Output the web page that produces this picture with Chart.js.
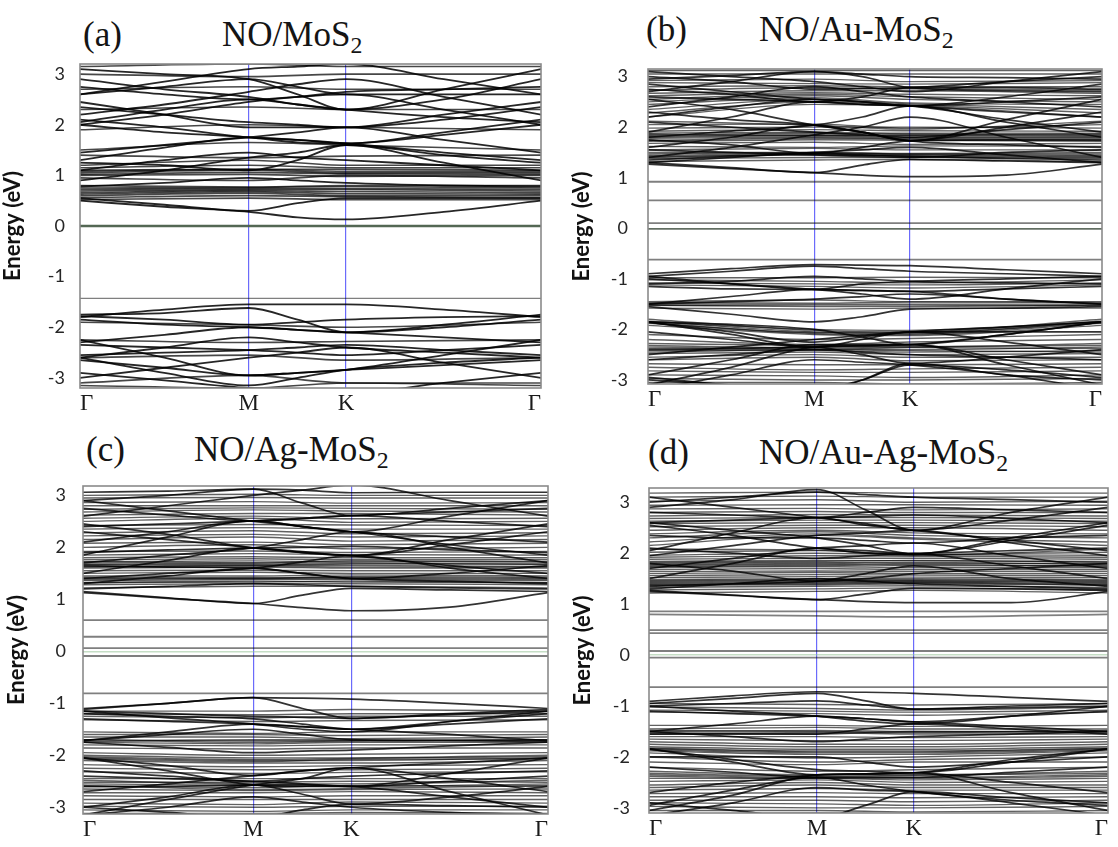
<!DOCTYPE html>
<html>
<head>
<meta charset="utf-8">
<script src="https://cdn.jsdelivr.net/npm/chart.js@4.4.0/dist/chart.umd.min.js"></script>
<style>
  html, body { margin: 0; padding: 0; background: #fff; }
  body { width: 1118px; height: 847px; position: relative; overflow: hidden; }
  .panel { position: absolute; }
  .lbl { position: absolute; font-family: "Liberation Serif", "Times New Roman", serif; font-size: 35px;
         line-height: 35px; color: #141414; white-space: nowrap; }
  .lbl sub { font-size: 0.68em; vertical-align: -0.3em; line-height: 0; }
</style>
</head>
<body>
<div class="lbl" style="left:83px;top:17px">(a)</div>
<div class="lbl" style="left:222px;top:17px">NO/MoS<sub>2</sub></div>
<div class="lbl" style="left:646px;top:12px">(b)</div>
<div class="lbl" style="left:759px;top:12px">NO/Au-MoS<sub>2</sub></div>
<div class="lbl" style="left:86px;top:432px">(c)</div>
<div class="lbl" style="left:194px;top:432px">NO/Ag-MoS<sub>2</sub></div>
<div class="lbl" style="left:648px;top:435px">(d)</div>
<div class="lbl" style="left:759px;top:435px">NO/Au-Ag-MoS<sub>2</sub></div>

<div class="panel" id="pA"><canvas id="cA"></canvas></div>
<div class="panel" id="pB"><canvas id="cB"></canvas></div>
<div class="panel" id="pC"><canvas id="cC"></canvas></div>
<div class="panel" id="pD"><canvas id="cD"></canvas></div>

<script>
// k-path Γ–M–K–Γ of the hexagonal zone, as a fraction of the total path length
const kFull = [0, 0.183, 0.366, 0.472, 0.577, 0.789, 1];   // sampled k-points
const kHigh = [0, 0.366, 0.577, 1];                         // Γ, M, K, Γ
const kLabels = ['Γ', 'M', 'K', 'Γ'];
const energyTicks = [-3, -2, -1, 0, 1, 2, 3];

// Dispersive bands: energies (eV) at kFull.  Near-flat bands: [E(Γ), E(M), E(K)].
// Isolated levels near the Fermi energy: [E(Γ), E(M), E(K)].

// ---- (a) NO/MoS2 ----
const bandsA = [
  [0.50, 0.38, 0.28, 0.17, 0.13, 0.28, 0.50],
  [0.55, 0.42, 0.30, 0.45, 0.55, 0.55, 0.55],
  [0.78, 0.85, 0.95, 0.90, 0.85, 0.80, 0.78],
  [0.90, 1.10, 1.35, 1.45, 1.60, 1.25, 0.90],
  [1.10, 1.30, 1.45, 1.35, 1.30, 1.20, 1.10],
  [1.25, 1.20, 1.10, 1.30, 1.60, 1.40, 1.25],
  [1.30, 1.55, 1.75, 1.70, 1.63, 1.45, 1.30],
  [1.45, 1.60, 1.75, 1.85, 1.95, 1.70, 1.45],
  [2.00, 1.85, 1.75, 1.65, 1.63, 1.80, 2.00],
  [2.10, 1.95, 1.75, 1.70, 1.63, 1.85, 2.10],
  [2.05, 2.30, 2.50, 2.40, 2.30, 2.15, 2.05],
  [2.35, 2.20, 2.05, 2.00, 1.95, 2.10, 2.35],
  [2.45, 2.20, 1.95, 1.95, 1.95, 2.20, 2.45],
  [2.00, 2.20, 2.45, 2.55, 2.60, 2.30, 2.00],
  [2.75, 2.60, 2.50, 2.55, 2.65, 2.70, 2.75],
  [2.90, 2.70, 2.55, 2.40, 2.30, 2.50, 2.90],
  [3.10, 3.00, 2.90, 2.60, 2.30, 2.70, 3.10],
  [2.60, 2.75, 2.90, 2.75, 2.60, 2.60, 2.60],
  [2.60, 2.85, 3.10, 3.15, 3.20, 2.90, 2.60],
  [2.20, 2.40, 2.65, 2.80, 2.90, 2.55, 2.20],
  [-1.80, -1.65, -1.55, -1.55, -1.55, -1.65, -1.80],
  [-1.78, -1.85, -1.95, -1.90, -1.85, -1.80, -1.78],
  [-1.75, -1.72, -1.62, -1.85, -2.10, -1.95, -1.75],
  [-1.85, -1.95, -2.00, -2.05, -2.10, -2.00, -1.85],
  [-2.30, -2.15, -2.00, -2.05, -2.10, -2.20, -2.30],
  [-2.60, -2.40, -2.20, -2.30, -2.40, -2.50, -2.60],
  [-2.35, -2.40, -2.45, -2.50, -2.55, -2.45, -2.35],
  [-2.55, -2.50, -2.45, -2.40, -2.35, -2.45, -2.55],
  [-2.25, -2.60, -2.95, -2.90, -2.84, -2.55, -2.25],
  [-2.65, -2.80, -2.95, -2.90, -2.84, -2.75, -2.65],
  [-2.60, -2.90, -3.15, -3.00, -2.84, -2.70, -2.60],
  [-3.00, -2.80, -2.60, -2.50, -2.40, -2.70, -3.00],
  [-2.90, -3.05, -3.20, -3.25, -3.30, -3.10, -2.90]
];
const flatA = [
  [0.52, 0.55, 0.52], [0.56, 0.60, 0.58], [0.60, 0.65, 0.60], [0.63, 0.68, 0.64], [0.66, 0.70, 0.68],
  [0.69, 0.72, 0.72], [0.72, 0.74, 0.74], [0.75, 0.76, 0.78], [0.80, 0.77, 0.80],
  [0.95, 0.90, 1.00], [1.00, 1.02, 0.98], [1.02, 1.06, 1.03], [1.05, 1.10, 1.05], [1.08, 1.12, 1.08],
  [1.10, 1.12, 1.12], [1.15, 1.20, 1.15],
  [1.20, 1.30, 1.20], [1.40, 1.35, 1.38], [1.50, 1.65, 1.60], [1.90, 2.00, 1.95], [2.30, 2.35, 2.30],
  [2.70, 2.75, 2.70], [3.00, 2.95, 3.00], [3.15, 3.20, 3.15],
  [-1.90, -1.95, -2.00], [-2.25, -2.30, -2.28], [-2.60, -2.55, -2.65], [-3.10, -2.95, -3.10], [-3.15, -3.20, -3.10]
];
const levelsA = [[0.00, 0.00, 0.00], [-1.43, -1.43, -1.43]];

// ---- (b) NO/Au-MoS2 ----
const bandsB = [
  [1.27, 1.18, 1.10, 1.05, 1.02, 1.05, 1.27],
  [1.30, 1.20, 1.10, 1.25, 1.36, 1.33, 1.30],
  [1.35, 1.42, 1.48, 1.45, 1.42, 1.38, 1.35],
  [1.55, 1.50, 1.45, 1.42, 1.40, 1.50, 1.55],
  [1.30, 1.40, 1.50, 1.55, 1.60, 1.45, 1.30],
  [1.60, 1.80, 2.04, 1.90, 1.73, 1.65, 1.60],
  [1.80, 1.92, 2.04, 2.20, 2.42, 2.10, 1.80],
  [2.30, 2.15, 2.04, 1.90, 1.73, 2.00, 2.30],
  [2.55, 2.35, 2.04, 1.90, 1.73, 2.15, 2.55],
  [1.75, 1.65, 1.48, 1.60, 1.73, 1.75, 1.75],
  [1.40, 1.60, 1.85, 2.00, 2.20, 1.80, 1.40],
  [2.10, 2.00, 1.90, 1.85, 1.80, 1.95, 2.10],
  [1.90, 2.20, 2.50, 2.45, 2.42, 2.15, 1.90],
  [2.20, 2.40, 2.55, 2.50, 2.42, 2.30, 2.20],
  [2.60, 2.55, 2.50, 2.45, 2.42, 2.50, 2.60],
  [2.85, 2.70, 2.55, 2.50, 2.42, 2.60, 2.85],
  [2.75, 2.65, 2.50, 2.60, 2.78, 2.78, 2.75],
  [2.40, 2.60, 2.80, 2.70, 2.60, 2.50, 2.40],
  [2.70, 2.90, 3.10, 3.00, 2.78, 2.72, 2.70],
  [3.00, 2.90, 2.75, 2.76, 2.78, 2.90, 3.00],
  [3.10, 3.00, 2.90, 2.80, 2.70, 2.90, 3.10],
  [2.95, 3.02, 3.10, 3.05, 3.00, 2.98, 2.95],
  [-0.90, -0.80, -0.72, -0.73, -0.74, -0.82, -0.90],
  [-0.95, -0.85, -0.75, -0.80, -0.85, -0.90, -0.95],
  [-0.95, -1.10, -1.21, -1.10, -1.05, -1.00, -0.95],
  [-1.10, -1.05, -0.95, -1.00, -1.05, -1.08, -1.10],
  [-1.15, -1.20, -1.21, -1.23, -1.25, -1.20, -1.15],
  [-1.50, -1.35, -1.21, -1.23, -1.25, -1.40, -1.50],
  [-1.00, -1.10, -1.21, -1.30, -1.40, -1.20, -1.00],
  [-1.50, -1.45, -1.40, -1.35, -1.30, -1.40, -1.50],
  [-1.55, -1.70, -1.85, -1.75, -1.60, -1.58, -1.55],
  [-1.85, -2.05, -2.25, -2.15, -2.05, -1.95, -1.85],
  [-1.85, -2.10, -2.35, -2.32, -2.30, -2.10, -1.85],
  [-1.85, -1.90, -2.00, -2.15, -2.30, -2.10, -1.85],
  [-2.05, -2.20, -2.35, -2.20, -2.05, -2.05, -2.05],
  [-2.50, -2.35, -2.20, -2.12, -2.05, -2.25, -2.50],
  [-2.90, -2.60, -2.30, -2.30, -2.30, -2.60, -2.90],
  [-3.10, -2.75, -2.35, -2.32, -2.30, -2.70, -3.10],
  [-2.40, -2.38, -2.35, -2.50, -2.67, -2.55, -2.40],
  [-2.60, -2.50, -2.40, -2.45, -2.50, -2.55, -2.60],
  [-2.95, -3.10, -3.20, -3.00, -2.70, -2.80, -2.95],
  [-3.20, -2.90, -2.60, -2.65, -2.70, -2.90, -3.20],
  [-3.00, -3.10, -3.25, -3.00, -2.67, -2.90, -3.00]
];
const flatB = [
  [1.32, 1.35, 1.36], [1.38, 1.40, 1.40], [1.40, 1.46, 1.42], [1.42, 1.45, 1.44], [1.44, 1.48, 1.46],
  [1.47, 1.50, 1.47], [1.50, 1.50, 1.48], [1.55, 1.58, 1.55],
  [1.62, 1.60, 1.63], [1.68, 1.70, 1.66], [1.72, 1.75, 1.74], [1.74, 1.78, 1.76], [1.78, 1.80, 1.78],
  [1.80, 1.83, 1.80], [1.82, 1.85, 1.83], [1.84, 1.88, 1.86], [1.86, 1.83, 1.84],
  [1.88, 1.90, 1.88], [1.92, 1.95, 1.93], [1.98, 2.00, 2.00], [2.05, 2.06, 1.98], [2.12, 2.04, 1.96],
  [2.20, 2.45, 2.42], [2.28, 2.50, 2.44], [2.35, 2.55, 2.46], [2.45, 2.58, 2.48], [2.50, 2.62, 2.55],
  [2.55, 2.65, 2.60], [2.62, 2.68, 2.65], [2.67, 2.72, 2.72], [2.73, 2.78, 2.76], [2.80, 2.82, 2.80],
  [2.88, 2.86, 2.85], [2.92, 2.95, 2.90], [3.05, 3.05, 3.05], [3.12, 3.12, 3.12],
  [-0.98, -0.98, -0.97], [-1.02, -1.05, -1.08], [-1.08, -1.10, -1.12], [-1.12, -1.15, -1.18],
  [-1.45, -1.42, -1.45], [-1.47, -1.48, -1.46], [-1.50, -1.50, -1.50], [-1.53, -1.52, -1.52],
  [-1.52, -1.55, -1.55], [-1.58, -1.60, -1.58],
  [-1.80, -2.02, -2.05], [-1.84, -2.05, -2.08], [-1.85, -2.00, -2.02], [-1.87, -2.06, -2.06],
  [-1.88, -2.08, -2.10], [-1.92, -2.10, -2.12],
  [-2.10, -2.20, -2.18], [-2.20, -2.30, -2.25], [-2.28, -2.32, -2.35], [-2.32, -2.36, -2.34],
  [-2.35, -2.38, -2.40], [-2.38, -2.40, -2.36], [-2.42, -2.42, -2.45], [-2.45, -2.40, -2.42],
  [-2.48, -2.45, -2.50], [-2.55, -2.50, -2.55], [-2.60, -2.55, -2.62],
  [-2.68, -2.70, -2.70], [-2.75, -2.80, -2.78], [-2.82, -2.85, -2.85], [-2.90, -2.92, -2.95],
  [-2.97, -3.00, -3.00], [-3.05, -3.05, -3.08], [-3.12, -3.10, -3.12]
];
const levelsB = [[0.92, 0.92, 0.92], [0.55, 0.55, 0.55], [0.10, 0.10, 0.10], [-0.01, -0.01, -0.01], [-0.62, -0.62, -0.62]];

// ---- (c) NO/Ag-MoS2 ----
const bandsC = [
  [1.13, 1.02, 0.92, 0.84, 0.78, 0.85, 1.13],
  [1.15, 1.03, 0.92, 1.08, 1.21, 1.18, 1.15],
  [1.20, 1.25, 1.30, 1.28, 1.25, 1.22, 1.20],
  [1.30, 1.45, 1.60, 1.50, 1.40, 1.35, 1.30],
  [1.50, 1.75, 1.99, 1.90, 1.84, 1.65, 1.50],
  [1.70, 1.85, 1.99, 2.15, 2.30, 2.00, 1.70],
  [2.30, 2.15, 1.99, 1.90, 1.84, 2.05, 2.30],
  [2.45, 2.25, 1.99, 1.92, 1.84, 2.15, 2.45],
  [2.10, 2.30, 2.51, 2.40, 2.30, 2.20, 2.10],
  [1.85, 2.20, 2.51, 2.40, 2.30, 2.05, 1.85],
  [2.75, 2.62, 2.51, 2.55, 2.61, 2.68, 2.75],
  [2.40, 2.45, 2.51, 2.56, 2.61, 2.50, 2.40],
  [2.90, 3.00, 3.12, 2.85, 2.61, 2.75, 2.90],
  [3.06, 3.08, 3.12, 3.10, 3.05, 3.06, 3.06],
  [2.90, 2.70, 2.50, 2.40, 2.30, 2.60, 2.90],
  [1.40, 1.50, 1.60, 1.72, 1.84, 1.60, 1.40],
  [1.65, 1.62, 1.60, 1.50, 1.40, 1.50, 1.65],
  [1.90, 1.95, 1.99, 2.00, 2.02, 1.95, 1.90],
  [2.60, 2.80, 3.00, 3.10, 3.20, 2.90, 2.60],
  [-1.10, -1.00, -0.89, -0.90, -0.92, -1.00, -1.10],
  [-1.12, -1.00, -0.89, -1.10, -1.29, -1.20, -1.12],
  [-1.15, -1.20, -1.25, -1.27, -1.29, -1.22, -1.15],
  [-1.30, -1.35, -1.40, -1.45, -1.50, -1.40, -1.30],
  [-1.72, -1.55, -1.40, -1.45, -1.50, -1.60, -1.72],
  [-1.15, -1.28, -1.40, -1.50, -1.55, -1.35, -1.15],
  [-2.05, -2.20, -2.39, -2.30, -2.24, -2.15, -2.05],
  [-2.05, -2.30, -2.57, -2.60, -2.60, -2.35, -2.05],
  [-2.70, -2.55, -2.39, -2.30, -2.24, -2.45, -2.70],
  [-3.00, -2.80, -2.57, -2.57, -2.60, -2.80, -3.00],
  [-3.15, -2.85, -2.57, -2.45, -2.24, -2.70, -3.15],
  [-3.00, -3.10, -3.20, -3.05, -2.94, -2.97, -3.00],
  [-2.60, -2.60, -2.57, -2.75, -2.94, -2.80, -2.60],
  [-1.75, -1.85, -1.95, -1.92, -1.90, -1.82, -1.75],
  [-1.72, -1.60, -1.50, -1.60, -1.70, -1.72, -1.72],
  [-2.30, -2.40, -2.50, -2.45, -2.40, -2.35, -2.30],
  [-2.40, -2.45, -2.50, -2.55, -2.60, -2.50, -2.40],
  [-3.15, -3.00, -2.80, -2.90, -3.00, -3.10, -3.15],
  [-1.20, -1.25, -1.30, -1.40, -1.50, -1.35, -1.20]
];
const flatC = [
  [1.22, 1.25, 1.25], [1.28, 1.30, 1.30], [1.32, 1.33, 1.35], [1.32, 1.35, 1.33], [1.36, 1.38, 1.38],
  [1.38, 1.40, 1.40], [1.40, 1.42, 1.42], [1.42, 1.40, 1.44],
  [1.45, 1.45, 1.47], [1.50, 1.52, 1.50], [1.55, 1.56, 1.55], [1.60, 1.62, 1.60], [1.62, 1.64, 1.62],
  [1.63, 1.66, 1.65], [1.67, 1.70, 1.70], [1.68, 1.66, 1.68], [1.72, 1.74, 1.72], [1.72, 1.70, 1.74],
  [1.76, 1.78, 1.76], [1.80, 1.82, 1.80], [1.85, 1.88, 1.86],
  [1.92, 1.93, 1.90], [2.00, 2.05, 1.97], [2.08, 2.10, 2.05], [2.15, 2.20, 2.12], [2.22, 2.25, 2.20],
  [2.28, 2.32, 2.26], [2.35, 2.38, 2.35], [2.42, 2.44, 2.43], [2.50, 2.56, 2.48], [2.56, 2.60, 2.55],
  [2.62, 2.65, 2.65], [2.68, 2.72, 2.70], [2.73, 2.76, 2.75], [2.80, 2.80, 2.80], [2.86, 2.88, 2.85],
  [2.95, 2.96, 2.95], [3.00, 3.02, 3.00],
  [-1.15, -1.15, -1.12], [-1.20, -1.22, -1.20], [-1.25, -1.28, -1.25], [-1.32, -1.35, -1.33],
  [-1.55, -1.58, -1.55], [-1.60, -1.60, -1.62], [-1.65, -1.65, -1.68], [-1.70, -1.72, -1.72],
  [-1.70, -1.75, -1.72], [-1.74, -1.70, -1.70],
  [-1.75, -1.78, -1.75], [-1.80, -1.82, -1.80], [-1.86, -1.88, -1.86], [-1.95, -2.00, -1.98],
  [-2.00, -2.05, -2.05], [-2.03, -2.08, -2.06], [-2.05, -2.10, -2.10], [-2.07, -2.12, -2.08],
  [-2.10, -2.15, -2.15], [-2.18, -2.22, -2.20],
  [-2.25, -2.28, -2.28], [-2.32, -2.35, -2.33], [-2.45, -2.45, -2.45], [-2.48, -2.55, -2.55],
  [-2.52, -2.52, -2.50], [-2.55, -2.58, -2.60], [-2.58, -2.66, -2.64],
  [-2.60, -2.62, -2.58], [-2.65, -2.68, -2.66], [-2.72, -2.72, -2.70], [-2.78, -2.80, -2.78],
  [-2.85, -2.85, -2.85], [-2.92, -2.95, -2.90], [-2.98, -3.00, -2.98], [-3.05, -3.08, -3.05],
  [-3.12, -3.12, -3.10]
];
const levelsC = [[0.60, 0.60, 0.60], [0.28, 0.28, 0.28], [0.06, 0.06, 0.06], [-0.09, -0.09, -0.09], [-0.81, -0.81, -0.81]];

// ---- (d) NO/Au-Ag-MoS2 ----
const bandsD = [
  [1.25, 1.17, 1.09, 1.05, 1.03, 1.03, 1.25],
  [1.27, 1.18, 1.09, 1.20, 1.31, 1.30, 1.27],
  [1.30, 1.40, 1.50, 1.45, 1.40, 1.35, 1.30],
  [1.50, 1.80, 2.10, 2.00, 1.99, 1.75, 1.50],
  [1.70, 1.90, 2.10, 2.15, 2.20, 1.95, 1.70],
  [2.55, 2.35, 2.10, 2.05, 1.99, 2.25, 2.55],
  [2.35, 2.30, 2.30, 2.25, 2.20, 2.30, 2.35],
  [2.60, 2.45, 2.30, 2.15, 1.99, 2.30, 2.60],
  [1.95, 2.15, 2.35, 2.40, 2.45, 2.20, 1.95],
  [2.05, 2.40, 2.70, 2.55, 2.45, 2.25, 2.05],
  [2.90, 3.05, 3.25, 2.85, 2.45, 2.65, 2.90],
  [3.10, 2.90, 2.70, 2.58, 2.45, 2.80, 3.10],
  [2.60, 2.65, 2.70, 2.72, 2.75, 2.68, 2.60],
  [1.35, 1.40, 1.45, 1.60, 1.75, 1.50, 1.35],
  [1.80, 1.65, 1.45, 1.50, 1.60, 1.70, 1.80],
  [3.00, 3.10, 3.20, 3.15, 3.10, 3.05, 3.00],
  [2.10, 2.00, 1.90, 1.95, 1.99, 2.05, 2.10],
  [2.80, 2.75, 2.70, 2.80, 2.90, 2.85, 2.80],
  [-0.91, -0.80, -0.72, -0.73, -0.75, -0.83, -0.91],
  [-0.95, -0.85, -0.75, -0.90, -1.06, -1.00, -0.95],
  [-1.00, -0.95, -0.90, -0.98, -1.06, -1.03, -1.00],
  [-1.10, -1.15, -1.20, -1.25, -1.31, -1.20, -1.10],
  [-1.50, -1.35, -1.20, -1.25, -1.31, -1.40, -1.50],
  [-1.00, -1.10, -1.20, -1.30, -1.35, -1.20, -1.00],
  [-1.84, -2.10, -2.35, -2.33, -2.31, -2.05, -1.84],
  [-1.84, -2.05, -2.25, -2.28, -2.31, -2.10, -1.84],
  [-2.70, -2.50, -2.35, -2.33, -2.31, -2.50, -2.70],
  [-3.05, -2.75, -2.35, -2.33, -2.31, -2.70, -3.05],
  [-2.95, -2.65, -2.40, -2.55, -2.68, -2.85, -2.95],
  [-2.90, -3.05, -3.20, -2.95, -2.68, -2.80, -2.90],
  [-1.50, -1.60, -1.70, -1.65, -1.60, -1.55, -1.50],
  [-1.55, -1.55, -1.55, -1.45, -1.35, -1.45, -1.55],
  [-2.20, -2.30, -2.40, -2.40, -2.40, -2.30, -2.20],
  [-3.15, -2.90, -2.60, -2.65, -2.68, -2.90, -3.15],
  [-2.00, -2.00, -2.00, -2.10, -2.20, -2.10, -2.00]
];
const flatD = [
  [1.22, 1.25, 1.27], [1.28, 1.30, 1.32], [1.33, 1.35, 1.36], [1.37, 1.38, 1.40], [1.38, 1.40, 1.42],
  [1.40, 1.42, 1.43], [1.42, 1.44, 1.45], [1.44, 1.46, 1.46], [1.46, 1.48, 1.48], [1.48, 1.50, 1.50],
  [1.52, 1.54, 1.53], [1.56, 1.58, 1.57], [1.60, 1.62, 1.60],
  [1.64, 1.65, 1.64], [1.68, 1.70, 1.68], [1.72, 1.74, 1.72], [1.74, 1.76, 1.78], [1.76, 1.78, 1.76],
  [1.78, 1.80, 1.82], [1.80, 1.82, 1.80], [1.82, 1.84, 1.86],
  [1.84, 1.86, 1.85], [1.88, 1.90, 1.90], [1.92, 1.95, 1.94], [1.96, 2.00, 1.97], [2.02, 2.05, 1.98],
  [2.08, 2.06, 1.96], [2.15, 2.35, 2.28], [2.22, 2.38, 2.30], [2.30, 2.42, 2.35], [2.38, 2.45, 2.40],
  [2.45, 2.50, 2.50], [2.52, 2.55, 2.55], [2.58, 2.60, 2.60], [2.63, 2.65, 2.65], [2.68, 2.70, 2.70],
  [2.73, 2.76, 2.75], [2.80, 2.82, 2.80], [2.87, 2.88, 2.85], [2.94, 2.95, 2.95], [3.02, 3.05, 3.00],
  [3.10, 3.12, 3.10], [3.18, 3.20, 3.18],
  [-0.95, -0.97, -0.98], [-1.02, -1.05, -1.08], [-1.08, -1.10, -1.12], [-1.12, -1.15, -1.18],
  [-1.38, -1.38, -1.40], [-1.45, -1.42, -1.45], [-1.48, -1.50, -1.52], [-1.50, -1.48, -1.50],
  [-1.52, -1.55, -1.50], [-1.55, -1.52, -1.55],
  [-1.60, -1.60, -1.62], [-1.65, -1.68, -1.68], [-1.70, -1.75, -1.75], [-1.75, -1.80, -1.80],
  [-1.80, -1.85, -1.85], [-1.83, -1.88, -1.88], [-1.84, -1.90, -1.90], [-1.86, -1.92, -1.92],
  [-1.88, -1.95, -1.95], [-1.92, -2.02, -2.00],
  [-2.00, -2.10, -2.05], [-2.10, -2.15, -2.10], [-2.20, -2.28, -2.25], [-2.28, -2.35, -2.35],
  [-2.32, -2.38, -2.36], [-2.35, -2.40, -2.40], [-2.38, -2.42, -2.42],
  [-2.42, -2.42, -2.45], [-2.48, -2.45, -2.50], [-2.55, -2.50, -2.55],
  [-2.60, -2.55, -2.60], [-2.65, -2.62, -2.65], [-2.72, -2.70, -2.72], [-2.78, -2.78, -2.80],
  [-2.85, -2.85, -2.88], [-2.90, -2.92, -2.95], [-2.97, -3.00, -3.00], [-3.05, -3.05, -3.08],
  [-3.12, -3.10, -3.12]
];
const levelsD = [[0.86, 0.86, 0.86], [0.80, 0.77, 0.75], [0.49, 0.49, 0.49], [0.43, 0.43, 0.43],
                 [0.08, 0.08, 0.08], [-0.05, -0.05, -0.05], [-0.63, -0.63, -0.63]];

// ---- panel layout: canvas box and plot-area insets (px) ----
const panels = [
  { id: 'A', bands: bandsA, flat: flatA, levels: levelsA, yMin: -3.2, yMax: 3.2,
    box: { left: 0, top: 40, width: 556, height: 382 }, padTop: 12, padRight: 15, axisW: 80, axisH: 34,
    titleOff: 13, tickPad: 15,
    flatStyle: { c: 'rgba(0,0,0,0.72)', w: 1.6 }, bandStyle: { c: 'rgba(0,0,0,0.85)', w: 1.8 },
    levelStyle: [{ c: 'rgba(70,90,70,0.9)', w: 2.6 }, { c: 'rgba(0,0,0,0.5)', w: 1.3 }] },
  { id: 'B', bands: bandsB, flat: flatB, levels: levelsB, yMin: -3.08, yMax: 3.15,
    box: { left: 562, top: 40, width: 556, height: 382 }, padTop: 14, padRight: 16, axisW: 86, axisH: 38,
    titleOff: 20, tickPad: 20,
    flatStyle: { c: 'rgba(0,0,0,0.62)', w: 1.4 }, bandStyle: { c: 'rgba(0,0,0,0.8)', w: 1.7 } },
  { id: 'C', bands: bandsC, flat: flatC, levels: levelsC, yMin: -3.13, yMax: 3.18,
    box: { left: 0, top: 460, width: 560, height: 387 }, padTop: 13, padRight: 12, axisW: 83, axisH: 33,
    titleOff: 17, tickPad: 17,
    flatStyle: { c: 'rgba(0,0,0,0.62)', w: 1.4 }, bandStyle: { c: 'rgba(0,0,0,0.8)', w: 1.7 } },
  { id: 'D', bands: bandsD, flat: flatD, levels: levelsD, yMin: -3.1, yMax: 3.28,
    box: { left: 562, top: 460, width: 556, height: 387 }, padTop: 16, padRight: 10, axisW: 87, axisH: 34,
    titleOff: 21, tickPad: 19,
    flatStyle: { c: 'rgba(0,0,0,0.62)', w: 1.4 }, bandStyle: { c: 'rgba(0,0,0,0.8)', w: 1.7 } }
];

function bandPoints(vals) {
  if (vals.length === kFull.length) return vals.map((e, i) => ({ x: kFull[i], y: e }));
  const e = [vals[0], vals[1], vals[2], vals[0]];
  return e.map((v, i) => ({ x: kHigh[i], y: v }));
}

// frame around the plotting area
const framePlugin = {
  id: 'frame',
  afterDraw(chart) {
    const { ctx, chartArea: a } = chart;
    ctx.save();
    ctx.strokeStyle = '#8a8a8a';
    ctx.lineWidth = 1.6;
    ctx.strokeRect(a.left, a.top, a.right - a.left, a.bottom - a.top);
    ctx.restore();
  }
};

panels.forEach(p => {
  const holder = document.getElementById('p' + p.id);
  Object.assign(holder.style, { left: p.box.left + 'px', top: p.box.top + 'px',
    width: p.box.width + 'px', height: p.box.height + 'px' });
  const canvas = document.getElementById('c' + p.id);
  canvas.width = p.box.width; canvas.height = p.box.height;
  canvas.style.width = p.box.width + 'px'; canvas.style.height = p.box.height + 'px';

  const datasets = [];
  p.levels.forEach((v, i) => {
    const st = p.levelStyle ? p.levelStyle[Math.min(i, p.levelStyle.length - 1)] : { c: 'rgba(0,0,0,0.5)', w: 1.8 };
    datasets.push({ data: bandPoints(v), borderColor: st.c, borderWidth: st.w });
  });
  p.flat.forEach(v => datasets.push({ data: bandPoints(v), borderColor: p.flatStyle.c, borderWidth: p.flatStyle.w }));
  p.bands.forEach(v => datasets.push({ data: bandPoints(v), borderColor: p.bandStyle.c, borderWidth: p.bandStyle.w }));
  datasets.forEach(d => Object.assign(d, { pointRadius: 0, fill: false, cubicInterpolationMode: 'monotone', clip: 0 }));

  new Chart(canvas, {
    type: 'line',
    data: { datasets },
    options: {
      responsive: false, animation: false, events: [],
      layout: { padding: { top: p.padTop, right: p.padRight, left: 0, bottom: 0 } },
      plugins: { legend: { display: false }, tooltip: { enabled: false }, title: { display: false } },
      scales: {
        x: {
          type: 'linear', min: 0, max: 1, z: 1,
          afterBuildTicks: s => { s.ticks = kHigh.map(v => ({ value: v })); },
          afterFit: s => { s.height = p.axisH; },
          ticks: { autoSkip: false, maxRotation: 0, align: 'inner', padding: 4, color: '#1a1a1a',
                   font: { family: '"Liberation Serif", "Times New Roman", serif', size: 23, lineHeight: 1 },
                   callback: (v, i) => kLabels[i] },
          grid: { drawTicks: false, lineWidth: 1.2,
                  color: c => (c.index === 1 || c.index === 2) ? 'rgba(70,70,250,0.8)' : 'rgba(0,0,0,0)' },
          border: { display: false }
        },
        y: {
          type: 'linear', min: p.yMin, max: p.yMax,
          afterBuildTicks: s => { s.ticks = energyTicks.map(v => ({ value: v })); },
          afterFit: s => { s.width = p.axisW; },
          ticks: { padding: p.tickPad, color: '#262626',
                   font: { family: 'Lato, "Open Sans", sans-serif', size: 18, lineHeight: 1 },
                   callback: v => String(v) },
          grid: { drawTicks: false, lineWidth: 1.5,
                  color: c => (c.tick && c.tick.value === 0) ? 'rgba(150,195,150,0.55)' : 'rgba(0,0,0,0)' },
          border: { display: false },
          title: { display: true, text: 'Energy (eV)', color: '#111',
                   font: { family: 'Lato, "Open Sans", sans-serif', size: 22, weight: 'bold', lineHeight: 1 },
                   padding: { top: p.titleOff - 11, bottom: 0 } }
        }
      }
    },
    plugins: [framePlugin]
  });
});
</script>
</body>
</html>
